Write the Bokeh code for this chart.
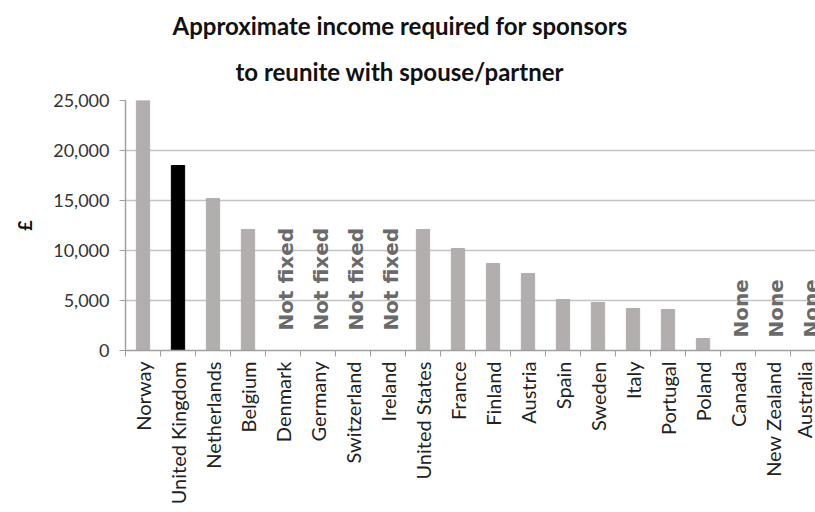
from bokeh.plotting import figure
from bokeh.models import (ColumnDataSource, Range1d, FixedTicker, NumeralTickFormatter,
                          CustomJSTickFormatter, Title)
from bokeh.core.properties import value
from bokeh.embed import file_html
from bokeh.resources import INLINE
import math

title_lines = ["Approximate income required for sponsors", "to reunite with spouse/partner"]
countries = ["Norway", "United Kingdom", "Netherlands", "Belgium", "Denmark", "Germany",
             "Switzerland", "Ireland", "United States", "France", "Finland", "Austria",
             "Spain", "Sweden", "Italy", "Portugal", "Poland", "Canada", "New Zealand",
             "Australia"]
income = [25000, 18500, 15200, 12100, None, None, None, None, 12100, 10200, 8700, 7700,
          5100, 4800, 4200, 4100, 1200, None, None, None]
notes = ["", "", "", "", "Not fixed", "Not fixed", "Not fixed", "Not fixed", "", "", "", "",
         "", "", "", "", "", "None", "None", "None"]
highlight = "United Kingdom"
y_ticks = [0, 5000, 10000, 15000, 20000, 25000]

GREY = "#b3aeae"
bar_x, bar_top, bar_color = [], [], []
for i, (c, v) in enumerate(zip(countries, income)):
    if v is not None:
        bar_x.append(i + 0.5)
        bar_top.append(v)
        bar_color.append("#000000" if c == highlight else GREY)
bars = ColumnDataSource(dict(x=bar_x, top=bar_top, color=bar_color))

note_src = ColumnDataSource(dict(
    x=[i + 0.5 for i, n in enumerate(notes) if n],
    y=[2000 if n == "Not fixed" else 1300 for n in notes if n],
    text=[n for n in notes if n],
))

n = len(countries)
p = figure(width=815, height=512, output_backend="svg", toolbar_location=None,
           x_range=Range1d(0, 690 / 35), y_range=Range1d(0, 25000))
p.min_border_left = 125
p.min_border_right = 0
p.min_border_top = 100
p.min_border_bottom = 162
p.outline_line_color = None
p.background_fill_color = "white"

title_style = dict(align="left", text_font="Lato", text_font_size="24px",
                   text_font_style="bold", text_color="#111111")
p.title = Title(text=title_lines[0], offset=47, standoff=0, **title_style)
p.add_layout(Title(text=title_lines[1], offset=110, standoff=30, **title_style), "above")

p.vbar(x="x", top="top", width=0.38, bottom=0, color="color", source=bars)
p.text(x="x", y="y", text="text", source=note_src, angle=math.pi / 2,
       text_font=value("DejaVu Sans"), text_font_size="20px", text_font_style="bold",
       text_color="#6a6a6a", text_align="left", text_baseline="alphabetic", x_offset=3)

# x axis
xa = p.xaxis[0]
xa.ticker = FixedTicker(ticks=[i + 0.5 for i in range(n)], minor_ticks=list(range(n + 1)))
xa.formatter = CustomJSTickFormatter(args=dict(labels=countries),
                                     code="return labels[Math.floor(tick)] || '';")
xa.major_label_orientation = math.pi / 2
xa.major_tick_in = 0
xa.major_tick_out = 0
xa.minor_tick_in = 0
xa.minor_tick_out = 6
xa.minor_tick_line_color = "#a0a0a0"
xa.axis_line_color = "#a0a0a0"
xa.axis_line_width = 1.5
xa.major_label_text_font = "Lato"
xa.major_label_text_font_size = "20px"
xa.major_label_text_color = "#222222"
xa.major_label_standoff = 5

# y axis
ya = p.yaxis[0]
ya.ticker = FixedTicker(ticks=y_ticks)
ya.formatter = NumeralTickFormatter(format="0,0")
ya.minor_tick_line_color = None
ya.major_tick_in = 0
ya.major_tick_out = 6
ya.major_tick_line_color = "#a0a0a0"
ya.axis_line_color = "#a0a0a0"
ya.axis_line_width = 1.5
ya.major_label_text_font = "Lato"
ya.major_label_text_font_size = "18px"
ya.major_label_text_color = "#333333"
ya.major_label_standoff = 10
ya.axis_label = "£"
ya.axis_label_text_font = "Lato"
ya.axis_label_text_font_size = "18px"
ya.axis_label_text_font_style = "bold"
ya.axis_label_text_color = "#111111"
ya.axis_label_standoff = 14

p.xgrid.grid_line_color = None
p.ygrid.ticker = FixedTicker(ticks=y_ticks)
p.ygrid.grid_line_color = "#c4c4c4"
p.ygrid.grid_line_width = 1.5

open("out.html", "w").write(file_html(p, INLINE))
